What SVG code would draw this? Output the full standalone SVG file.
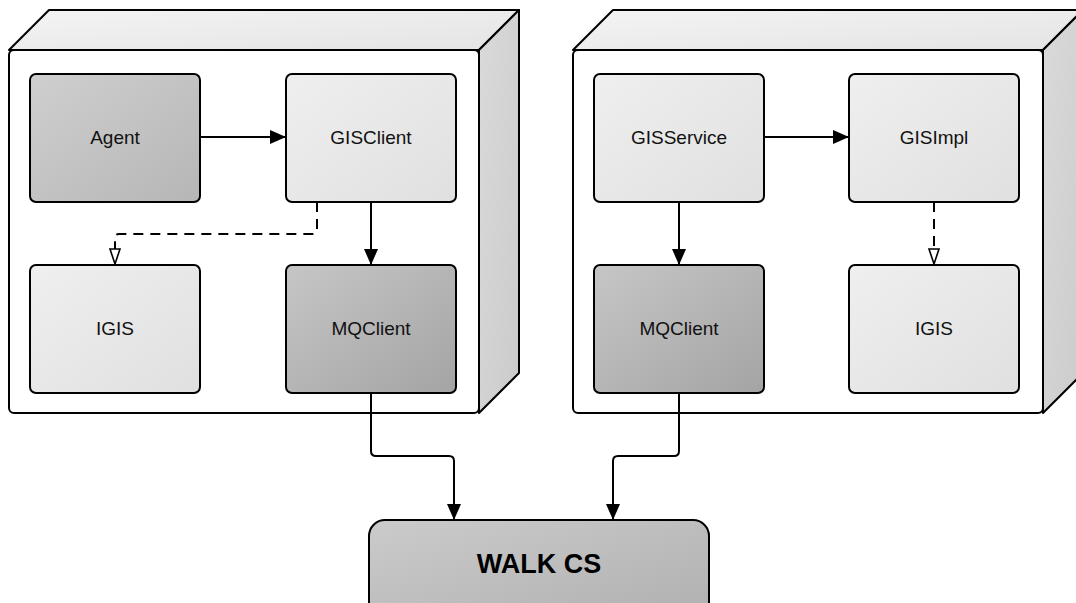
<svg xmlns="http://www.w3.org/2000/svg" width="1076" height="603" viewBox="0 0 1076 603">
  <defs>
    <linearGradient id="gLight" x1="0" y1="0" x2="1" y2="1">
      <stop offset="0" stop-color="#efefef"/>
      <stop offset="1" stop-color="#e0e0e0"/>
    </linearGradient>
    <linearGradient id="gMid" x1="0" y1="0" x2="1" y2="1">
      <stop offset="0" stop-color="#cfcfcf"/>
      <stop offset="1" stop-color="#b6b6b6"/>
    </linearGradient>
    <linearGradient id="gDark" x1="0" y1="0" x2="1" y2="1">
      <stop offset="0" stop-color="#c6c6c6"/>
      <stop offset="1" stop-color="#a4a4a4"/>
    </linearGradient>
    <linearGradient id="gTop" x1="0" y1="0" x2="1" y2="1">
      <stop offset="0" stop-color="#f4f4f4"/>
      <stop offset="1" stop-color="#e4e4e4"/>
    </linearGradient>
    <linearGradient id="gSide" x1="0" y1="0" x2="1" y2="1">
      <stop offset="0" stop-color="#dadada"/>
      <stop offset="1" stop-color="#cbcbcb"/>
    </linearGradient>
    <linearGradient id="gWalk" x1="0" y1="0" x2="1" y2="1">
      <stop offset="0" stop-color="#cbcbcb"/>
      <stop offset="1" stop-color="#b0b0b0"/>
    </linearGradient>
    <marker id="arrow" markerUnits="userSpaceOnUse" markerWidth="18" markerHeight="16" refX="16" refY="7" orient="auto">
      <path d="M0,0 L16,7 L0,14 Z" fill="#000"/>
    </marker>
    <marker id="hollow" markerUnits="userSpaceOnUse" markerWidth="20" markerHeight="14" refX="1" refY="6" orient="auto">
      <path d="M1,1 L16,6 L1,11 Z" fill="#fff" stroke="#000" stroke-width="1.6" stroke-linejoin="miter"/>
    </marker>
  </defs>
  <style>
    .edge { fill: none; stroke: #000; stroke-width: 2; stroke-linejoin: round; }
    .node { stroke: #000; stroke-width: 2; }
    .label { font-family: "Liberation Sans", Arial, sans-serif; font-size: 19px; fill: #111; text-anchor: middle; }
    .big { font-family: "Liberation Sans", Arial, sans-serif; font-size: 27px; font-weight: bold; fill: #000; text-anchor: middle; }
    .face { stroke: #000; stroke-width: 2; stroke-linejoin: round; }
    .dash { stroke-dasharray: 10 7; }
  </style>

  <!-- left container (3D box) -->
  <g id="container-left">
    <path class="face" fill="url(#gTop)" d="M9,50 L49,10 L519,10 L479,50 Z"/>
    <path class="face" fill="url(#gSide)" d="M479,50 L519,10 L519,373 L479,413 Z"/>
    <rect class="face" x="9" y="50" width="470" height="363" rx="5" fill="#fff"/>
  </g>

  <!-- right container (3D box) -->
  <g id="container-right">
    <path class="face" fill="url(#gTop)" d="M573,50 L613,10 L1083,10 L1043,50 Z"/>
    <path class="face" fill="url(#gSide)" d="M1043,50 L1083,10 L1083,373 L1043,413 Z"/>
    <rect class="face" x="573" y="50" width="470" height="363" rx="5" fill="#fff"/>
  </g>

  <g id="agent">
    <rect class="node" x="30" y="74" width="170" height="128" rx="6" fill="url(#gMid)"/>
    <text class="label" x="115" y="144">Agent</text>
  </g>
  <g id="gisclient">
    <rect class="node" x="286" y="74" width="170" height="128" rx="6" fill="url(#gLight)"/>
    <text class="label" x="371" y="144">GISClient</text>
  </g>
  <g id="igis-left">
    <rect class="node" x="30" y="265" width="170" height="128" rx="6" fill="url(#gLight)"/>
    <text class="label" x="115" y="335">IGIS</text>
  </g>
  <g id="mqclient-left">
    <rect class="node" x="286" y="265" width="170" height="128" rx="6" fill="url(#gDark)"/>
    <text class="label" x="371" y="335">MQClient</text>
  </g>

  <g id="gisservice">
    <rect class="node" x="594" y="74" width="170" height="128" rx="6" fill="url(#gLight)"/>
    <text class="label" x="679" y="144">GISService</text>
  </g>
  <g id="gisimpl">
    <rect class="node" x="849" y="74" width="170" height="128" rx="6" fill="url(#gLight)"/>
    <text class="label" x="934" y="144">GISImpl</text>
  </g>
  <g id="mqclient-right">
    <rect class="node" x="594" y="265" width="170" height="128" rx="6" fill="url(#gDark)"/>
    <text class="label" x="679" y="335">MQClient</text>
  </g>
  <g id="igis-right">
    <rect class="node" x="849" y="265" width="170" height="128" rx="6" fill="url(#gLight)"/>
    <text class="label" x="934" y="335">IGIS</text>
  </g>

  <g id="walk-cs">
    <rect class="node" x="369" y="520" width="340" height="100" rx="16" fill="url(#gWalk)"/>
    <text class="big" x="539" y="573">WALK CS</text>
  </g>

  <!-- connectors -->
  <g id="connectors">
    <path class="edge" d="M200,137 H286" marker-end="url(#arrow)"/>
    <path class="edge" d="M371,202 V265" marker-end="url(#arrow)"/>
    <path class="edge dash" d="M317,202 V230 Q317,234 313,234 H119 Q115,234 115,238 V249" marker-end="url(#hollow)"/>
    <path class="edge" d="M764,137 H849" marker-end="url(#arrow)"/>
    <path class="edge" d="M679,202 V265" marker-end="url(#arrow)"/>
    <path class="edge dash" d="M934,202 V249" marker-end="url(#hollow)"/>
    <path class="edge" d="M371,393 V451 Q371,456 376,456 H449 Q454,456 454,461 V520" marker-end="url(#arrow)"/>
    <path class="edge" d="M679,393 V451 Q679,456 674,456 H618 Q613,456 613,461 V520" marker-end="url(#arrow)"/>
  </g>
</svg>
